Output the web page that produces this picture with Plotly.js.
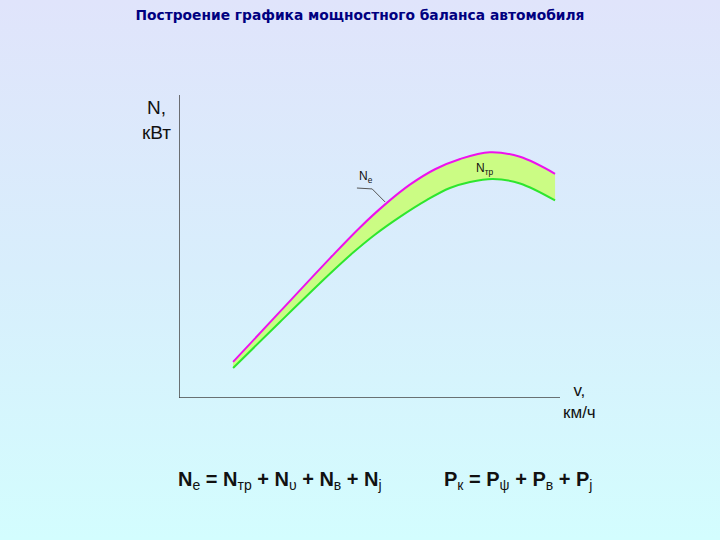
<!DOCTYPE html>
<html>
<head>
<meta charset="utf-8">
<script src="https://cdn.plot.ly/plotly-3.0.1.min.js"></script>
<style>
html,body{margin:0;padding:0;width:720px;height:540px;overflow:hidden;
background:linear-gradient(to bottom,#e0e4fb 0%,#d8eefc 50%,#d3fdfe 100%);}
#chart{width:720px;height:540px;}
</style>
</head>
<body>
<div id="chart"></div>
<script>
// Speed v (relative units) and power values (relative units)
const speedNe  = [14.2, 26.5, 39.6, 47.5, 54.1, 60.6, 67.2, 73.8, 81.6, 89.5, 98.7];
const powerNe  = [11.9, 28.5, 46.1, 56.3, 63.9, 70.4, 75.5, 78.9, 81.1, 79.6, 74.0];
const speedNtr = [14.2, 26.5, 39.6, 45.7, 51.4, 58.0, 65.1, 71.1, 76.4, 82.4, 89.5, 98.7];
const powerNtr = [9.9, 25.1, 41.0, 48.0, 53.9, 59.8, 65.4, 69.3, 71.3, 72.3, 70.8, 65.2];
// leader line of the "Ne" label
const leaderX = [46.7, 50.7, 54.1];
const leaderY = [69.3, 69.0, 64.7];

const titleText = 'Построение графика мощностного баланса автомобиля';
const yLabel = 'N,<br>кВт';
const xLabel = 'v,<br>км/ч';
const formula1 = '<b>N</b><sub>е</sub><b> = N</b><sub>тр</sub><b> + N</b><sub>υ</sub><b> + N</b><sub>в</sub><b> + N</b><sub>j</sub>';
const formula2 = '<b>P</b><sub>к</sub><b> = P</b><sub>ψ</sub><b> + P</b><sub>в</sub><b> + P</b><sub>j</sub>';

const traces = [
  {x: speedNtr, y: powerNtr, mode: 'lines', line: {color: '#2ee62e', width: 2, shape: 'spline', smoothing: 1}, hoverinfo: 'skip'},
  {x: speedNe, y: powerNe, mode: 'lines', line: {color: '#ee11ee', width: 2, shape: 'spline', smoothing: 1},
   fill: 'tonexty', fillcolor: 'rgba(200,255,110,0.85)', hoverinfo: 'skip'},
  {x: leaderX, y: leaderY, mode: 'lines', line: {color: '#555', width: 1}, hoverinfo: 'skip'}
];

const layout = {
  width: 720, height: 540,
  paper_bgcolor: 'rgba(0,0,0,0)', plot_bgcolor: 'rgba(0,0,0,0)',
  margin: {l: 179, r: 160, t: 95, b: 142},
  showlegend: false,
  font: {family: 'Liberation Sans, Arial, sans-serif', color: '#000'},
  title: {text: '<b>' + titleText + '</b>', font: {size: 13.8, color: '#000080', family: 'DejaVu Sans, Verdana, sans-serif'},
          x: 0.5, xref: 'container', y: 0.972, yref: 'container', yanchor: 'middle'},
  xaxis: {range: [0, 100], visible: false, fixedrange: true},
  yaxis: {range: [0, 100], visible: false, fixedrange: true},
  shapes: [
    {type: 'line', xref: 'x', yref: 'y', x0: 0, x1: 0, y0: -1.5, y1: 100, line: {color: '#444', width: 1.5}},
    {type: 'line', xref: 'x', yref: 'y', x0: -1, x1: 100, y0: 0, y1: 0, line: {color: '#444', width: 1.5}}
  ],
  annotations: [
    {x: -0.06, y: 0.917, xref: 'paper', yref: 'paper', xanchor: 'center', yanchor: 'middle', text: yLabel, showarrow: false, align: 'center', font: {size: 19, color: '#111'}},
    {x: 1.052, y: -0.013, xref: 'paper', yref: 'paper', xanchor: 'center', yanchor: 'middle', text: xLabel, showarrow: false, align: 'center', font: {size: 17, color: '#111'}},
    {x: 49.1, y: 72.8, xref: 'x', yref: 'y', text: 'N<sub>е</sub>', showarrow: false, font: {size: 12, color: '#111'}},
    {x: 80.3, y: 75.6, xref: 'x', yref: 'y', text: 'N<sub>тр</sub>', showarrow: false, font: {size: 12, color: '#111'}},
    {x: 0.265, y: -0.271, xref: 'paper', yref: 'paper', xanchor: 'center', yanchor: 'middle', text: formula1, showarrow: false, font: {size: 20, color: '#111'}},
    {x: 0.89, y: -0.271, xref: 'paper', yref: 'paper', xanchor: 'center', yanchor: 'middle', text: formula2, showarrow: false, font: {size: 20, color: '#111'}}
  ]
};

Plotly.newPlot('chart', traces, layout, {staticPlot: true, displayModeBar: false});
</script>
</body>
</html>
